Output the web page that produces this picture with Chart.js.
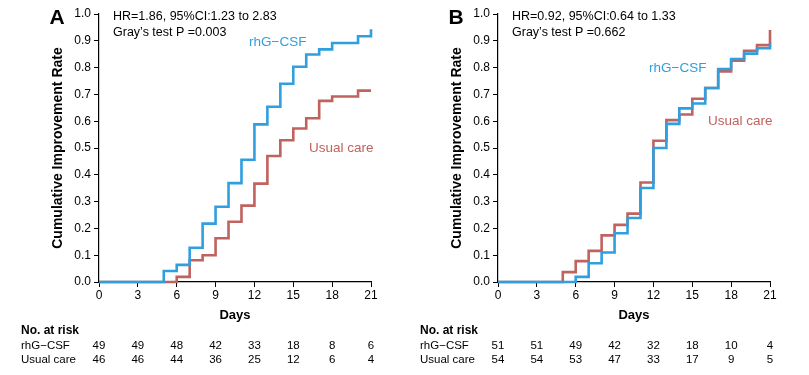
<!DOCTYPE html>
<html>
<head>
<meta charset="utf-8">
<script src="https://cdn.jsdelivr.net/npm/chart.js@4"></script>
<style>
  html, body { margin: 0; padding: 0; background: #fff; }
  #page { position: relative; width: 809px; height: 375px; overflow: hidden; }
  .panel { position: absolute; top: 0; width: 404px; height: 375px; }
</style>
</head>
<body>
<div id="page">
  <div class="panel" style="left:0"><canvas id="chartA"></canvas></div>
  <div class="panel" style="left:399px"><canvas id="chartB"></canvas></div>
</div>
<script>
/* ===== DATA ===== */

const xTicks = [0, 3, 6, 9, 12, 15, 18, 21];

// panel A
const aBlueDays = [0, 5, 6, 7, 8, 9, 10, 11, 12, 13, 14, 15, 16, 17, 18, 20, 21];
const aBlueRate = [0, 0.041, 0.064, 0.128, 0.218, 0.281, 0.369, 0.456, 0.588, 0.654, 0.740, 0.803, 0.849, 0.868, 0.892, 0.917, 0.943];
const aRedDays  = [0, 6, 7, 8, 9, 10, 11, 12, 13, 14, 15, 16, 17, 18, 20, 21];
const aRedRate  = [0, 0.019, 0.081, 0.100, 0.163, 0.225, 0.285, 0.367, 0.470, 0.529, 0.573, 0.611, 0.676, 0.692, 0.714, 0.714];
const aRiskBlue = [49, 49, 48, 42, 33, 18, 8, 6];
const aRiskRed  = [46, 46, 44, 36, 25, 12, 6, 4];
const aStats = ["HR=1.86, 95%CI:1.23 to 2.83", "Gray\u2019s test P =0.003"];

// panel B
const bBlueDays = [0, 6, 7, 8, 9, 10, 11, 12, 13, 14, 15, 16, 17, 18, 19, 20, 21];
const bBlueRate = [0, 0.019, 0.070, 0.110, 0.182, 0.239, 0.351, 0.500, 0.590, 0.648, 0.666, 0.724, 0.795, 0.832, 0.852, 0.872, 0.890];
const bRedDays  = [0, 5, 6, 7, 8, 9, 10, 11, 12, 13, 14, 15, 16, 17, 18, 19, 20, 21];
const bRedRate  = [0, 0.037, 0.078, 0.116, 0.174, 0.213, 0.255, 0.371, 0.527, 0.604, 0.625, 0.684, 0.724, 0.786, 0.826, 0.863, 0.884, 0.940];
const bRiskBlue = [51, 51, 49, 42, 32, 18, 10, 4];
const bRiskRed  = [54, 54, 53, 47, 33, 17, 9, 5];
const bStats = ["HR=0.92, 95%CI:0.64 to 1.33", "Gray\u2019s test P =0.662"];

const groupNames = ["rhG\u2212CSF", "Usual care"];

/* ===== STYLE ===== */

const BLUE = "#2f9fe0";
const RED = "#c0625d";
const FONT = "'Liberation Sans', Arial, sans-serif";

function pts(days, rates) {
  return days.map((d, i) => ({ x: d, y: rates[i] }));
}

/* ===== EXTRA TEXT (letters, stats, labels, risk table) ===== */

const extras = {
  id: "extras",
  afterDraw(chart, args, o) {
    const ctx = chart.ctx;
    const x = chart.scales.x;
    const area = chart.chartArea;
    ctx.save();
    ctx.fillStyle = "#000";
    ctx.textBaseline = "middle";

    // panel letter
    ctx.font = "bold 21px " + FONT;
    ctx.textAlign = "center";
    ctx.fillText(o.letter, 57, 18);

    // y title
    ctx.save();
    ctx.translate(58, 148);
    ctx.rotate(-Math.PI / 2);
    ctx.font = "bold 14px " + FONT;
    ctx.fillText("Cumulative Improvement Rate", 0, 0);
    ctx.restore();

    // x title
    ctx.font = "bold 13px " + FONT;
    ctx.fillText("Days", (area.left + area.right) / 2, 315);

    // stats
    ctx.textAlign = "left";
    ctx.font = "12.5px " + FONT;
    ctx.fillText(o.stats[0], 113, 17);
    ctx.fillText(o.stats[1], 113, 33);

    // series labels
    ctx.font = "13.5px " + FONT;
    ctx.fillStyle = BLUE;
    ctx.fillText(groupNames[0], o.blueLab[0], o.blueLab[1]);
    ctx.fillStyle = RED;
    ctx.fillText(groupNames[1], o.redLab[0], o.redLab[1]);

    // risk table
    ctx.fillStyle = "#000";
    ctx.font = "bold 12px " + FONT;
    ctx.fillText("No. at risk", 21, 331);
    ctx.font = "11.5px " + FONT;
    ctx.fillText(groupNames[0], 21, 346);
    ctx.fillText(groupNames[1], 21, 360);
    ctx.textAlign = "center";
    xTicks.forEach((t, i) => {
      const px = x.getPixelForValue(t);
      ctx.fillText(String(o.riskBlue[i]), px, 346);
      ctx.fillText(String(o.riskRed[i]), px, 360);
    });
    ctx.restore();
  }
};

/* ===== CHART ===== */

function makeChart(id, blue, red, opts) {
  return new Chart(document.getElementById(id), {
    type: "line",
    data: {
      datasets: [
        { data: blue, borderColor: BLUE, borderWidth: 2.6, stepped: true, pointRadius: 0, clip: false },
        { data: red, borderColor: RED, borderWidth: 2.6, stepped: true, pointRadius: 0, clip: false }
      ]
    },
    options: {
      responsive: false,
      animation: false,
      layout: { padding: { top: 14, left: 0, right: 33, bottom: 0 } },
      plugins: { legend: { display: false }, tooltip: { enabled: false }, extras: opts },
      scales: {
        x: {
          type: "linear",
          min: 0, max: 21,
          afterBuildTicks: s => { s.ticks = xTicks.map(v => ({ value: v })); },
          afterFit: s => { s.height = 93; },
          ticks: { color: "#000", font: { family: FONT, size: 12 }, padding: 1, maxRotation: 0 },
          grid: { drawOnChartArea: false, color: "#000", tickLength: 5 },
          border: { color: "#000", width: 1.2 }
        },
        y: {
          min: 0, max: 1,
          afterFit: s => { s.width = 99; },
          ticks: {
            stepSize: 0.1, color: "#000", padding: 3,
            font: { family: FONT, size: 12 },
            callback: v => v.toFixed(1)
          },
          grid: { drawOnChartArea: false, color: "#000", tickLength: 5 },
          border: { color: "#000", width: 1.2 }
        }
      }
    },
    plugins: [extras]
  });
}

function sizeCanvas(id) {
  const c = document.getElementById(id);
  c.width = 404; c.height = 375;
  c.style.width = "404px"; c.style.height = "375px";
}
sizeCanvas("chartA");
sizeCanvas("chartB");

makeChart("chartA", pts(aBlueDays, aBlueRate), pts(aRedDays, aRedRate), {
  letter: "A", stats: aStats, riskBlue: aRiskBlue, riskRed: aRiskRed,
  blueLab: [249, 42], redLab: [309, 148]
});

makeChart("chartB", pts(bBlueDays, bBlueRate), pts(bRedDays, bRedRate), {
  letter: "B", stats: bStats, riskBlue: bRiskBlue, riskRed: bRiskRed,
  blueLab: [250, 68], redLab: [309, 121]
});
</script>
</body>
</html>
